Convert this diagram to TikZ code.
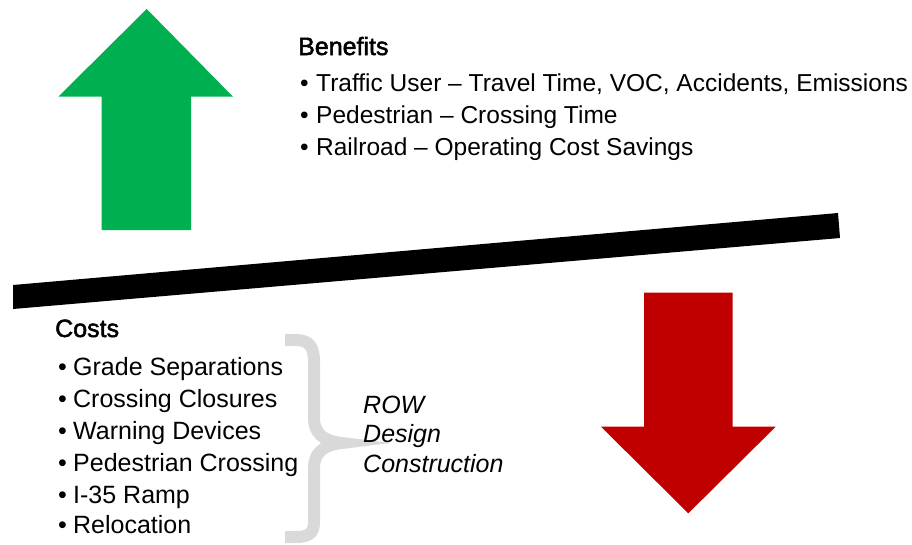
\documentclass[tikz,border=0pt]{standalone}
\usepackage{fontspec}
\setmainfont{Liberation Sans}
\newfontfamily\headfont[FakeBold=2]{Liberation Sans}
\definecolor{upgreen}{HTML}{00B050}
\definecolor{downred}{HTML}{C00000}
\definecolor{bracegray}{HTML}{D9D9D9}
\newcommand{\bulA}{\makebox[16pt][l]{•}}
\newcommand{\bulB}{\makebox[15pt][l]{•}}
\begin{document}
\begin{tikzpicture}[x=1pt,y=-1pt,
  txt/.style={inner sep=0pt,anchor=base west,font=\fontsize{25}{30}\selectfont},
  btxt/.style={inner sep=0pt,anchor=base west,font=\fontsize{24.5}{30}\selectfont},
  head/.style={inner sep=0pt,anchor=base west,font=\headfont\fontsize{25}{30}\selectfont},
  itxt/.style={inner sep=0pt,anchor=base west,font=\itshape\fontsize{25}{30}\selectfont}]
\useasboundingbox (0,0) rectangle (912,544);
% green up arrow
\fill[upgreen] (146.7,9) -- (233,96.7) -- (191,96.7) -- (191,230) -- (101.7,230) -- (101.7,96.7) -- (58.3,96.7) -- cycle;
% red down arrow
\fill[downred] (644,292.7) -- (732.7,292.7) -- (732.7,426.7) -- (775.7,426.7) -- (688.3,513.3) -- (601,426.7) -- (644,426.7) -- cycle;
% lever bar
\fill[black] (13,285) -- (838,213) -- (840,238) -- (13,309) -- cycle;
% brace
\draw[bracegray,line width=12pt,line join=miter,miter limit=10]
  (285,340) -- (296,340) .. controls (310,340) and (314,348) .. (314,362)
  -- (314,418) .. controls (314,432) and (322,441) .. (342,443)
  .. controls (322,445) and (314,454) .. (314,468)
  -- (314,522) .. controls (314,532) and (310,537) .. (296,537) -- (285,537);
% Benefits
\node[head] (bh) at (298,55) {Benefits};
\node[btxt] (b1) at (300,91) {\bulA Traffic User – Travel Time, VOC, Accidents, Emissions};
\node[btxt] (b2) at (300,123) {\bulA Pedestrian – Crossing Time};
\node[btxt] (b3) at (300,155) {\bulA Railroad – Operating Cost Savings};
% Costs
\node[head] (ch) at (55,337) {Costs};
\node[txt] (c1) at (58,375) {\bulB Grade Separations};
\node[txt] (c2) at (58,407) {\bulB Crossing Closures};
\node[txt] (c3) at (58,439) {\bulB Warning Devices};
\node[txt] (c4) at (58,471) {\bulB Pedestrian Crossing};
\node[txt] (c5) at (58,503) {\bulB I-35 Ramp};
\node[txt] (c6) at (58,533) {\bulB Relocation};
% italic
\node[itxt] (i1) at (363,413) {ROW};
\node[itxt] (i2) at (363,442) {Design};
\node[itxt] (i3) at (363,472) {Construction};
\end{tikzpicture}
\end{document}
